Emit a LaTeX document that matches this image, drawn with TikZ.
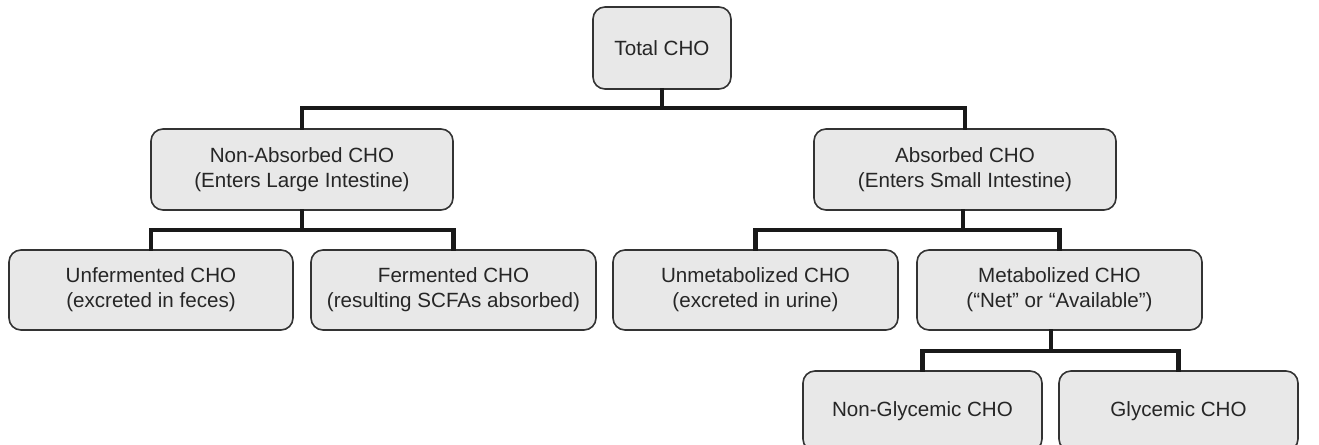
\documentclass[tikz,border=0pt]{standalone}
\usepackage{fontspec}
\setmainfont{Liberation Sans}
\definecolor{boxfill}{HTML}{E8E8E8}
\definecolor{boxline}{HTML}{333333}
\begin{document}
\begin{tikzpicture}[x=0.5pt,y=-0.5pt,
  cbox/.style={draw=boxline,line width=0.8pt,fill=boxfill,rounded corners=6pt,
    align=center,inner sep=0pt,font=\fontsize{10.3pt}{12.5pt}\selectfont,text=black!85},
  conn/.style={line width=2.1pt,black!90,line join=miter,line cap=rect}]
\clip (0,0) rectangle (1319,445);
\fill[white] (0,0) rectangle (1319,445);
% nodes
\node[cbox,minimum width=69pt,minimum height=41pt] (total) at (662,48) {Total CHO};
\node[cbox,minimum width=151pt,minimum height=40.5pt] (nonabs) at (302,169.5) {Non-Absorbed CHO\\(Enters Large Intestine)};
\node[cbox,minimum width=151pt,minimum height=40.5pt] (abs) at (965,169.5) {Absorbed CHO\\(Enters Small Intestine)};
\node[cbox,minimum width=142pt,minimum height=40pt] (unferm) at (151,290) {Unfermented CHO\\(excreted in feces)};
\node[cbox,minimum width=142.5pt,minimum height=40pt] (ferm) at (453.5,290) {Fermented CHO\\(resulting SCFAs absorbed)};
\node[cbox,minimum width=142.5pt,minimum height=40pt] (unmet) at (755.5,290) {Unmetabolized CHO\\(excreted in urine)};
\node[cbox,minimum width=142.5pt,minimum height=40pt] (met) at (1059.5,290) {Metabolized CHO\\(“Net” or “Available”)};
\node[cbox,minimum width=119.5pt,minimum height=40pt] (nonglyc) at (922.5,411) {Non-Glycemic CHO};
\node[cbox,minimum width=119.5pt,minimum height=40pt] (glyc) at (1178.5,411) {Glycemic CHO};
% junction coordinates
\coordinate (b1) at (662,108);
\coordinate (b2) at (302,230);
\coordinate (b3) at (963,230);
\coordinate (b4) at (1051,351);
% connectors
\draw[conn] (total.south) -- (b1);
\draw[conn] (nonabs.north) |- (b1) -| (abs.north);
\draw[conn] (nonabs.south) -- (b2);
\draw[conn] (unferm.north) |- (b2) -| (ferm.north);
\draw[conn] (b3 |- abs.south) -- (b3);
\draw[conn] (unmet.north) |- (b3) -| (met.north);
\draw[conn] (b4 |- met.south) -- (b4);
\draw[conn] (nonglyc.north) |- (b4) -| (glyc.north);
\end{tikzpicture}
\end{document}
